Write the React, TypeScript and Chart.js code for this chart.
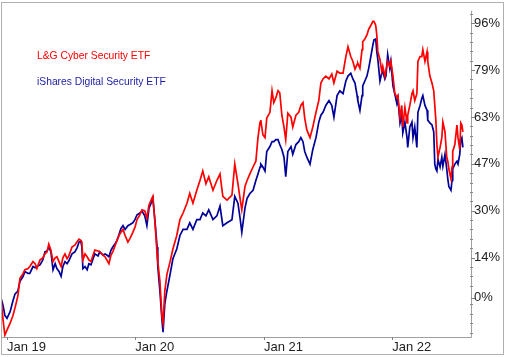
import React, { useEffect, useRef } from "react";
import { Chart, registerables } from "chart.js";

Chart.register(...registerables);

// x values: days since 1 Jan 2019
const dayOffsets = [
  -17, -11, -6, 0, 9, 17, 23, 31, 37, 46,
  51, 60, 65, 74, 80, 85, 94, 102, 108, 114,
  119, 125, 131, 137, 142, 148, 154, 159, 165, 171,
  176, 185, 193, 199, 205, 210, 213, 216, 222, 228,
  233, 239, 245, 250, 259, 264, 273, 279, 284, 290,
  296, 301, 307, 313, 319, 324, 330, 336, 344, 350,
  358, 364, 370, 378, 384, 392, 398, 404, 410, 415,
  421, 427, 429, 435, 441, 444, 449, 455, 464, 472,
  483, 492, 501, 512, 520, 529, 540, 549, 557, 566,
  574, 586, 597, 606, 614, 626, 640, 648, 657, 663,
  668, 677, 683, 691, 700, 708, 714, 720, 722, 728,
  734, 739, 748, 754, 759, 765, 771, 776, 782, 788,
  793, 799, 808, 813, 822, 830, 836, 842, 847, 853,
  862, 870, 879, 887, 893, 899, 907, 916, 924, 930,
  939, 947, 956, 964, 970, 978, 984, 990, 996, 998,
  1004, 1010, 1012, 1018, 1024, 1029, 1035, 1041, 1044, 1049,
  1052, 1055, 1061, 1066, 1069, 1075, 1078, 1083, 1089, 1092,
  1098, 1103, 1109, 1112, 1118, 1123, 1126, 1132, 1138, 1140,
  1146, 1152, 1155, 1160, 1166, 1169, 1175, 1180, 1183, 1189,
  1195, 1197, 1203, 1209, 1214, 1217, 1220, 1223, 1226, 1232,
  1237, 1240, 1246, 1251, 1254, 1257, 1263, 1266, 1268, 1274,
  1280, 1283, 1288, 1291, 1294, 1297,
];

// L&G Cyber Security ETF, % change
const lgCyber = [
  0, -7.8, -12.9, -11.2, -8.8, -6.1, -3.4, 0.7, 6.8, 8.5,
  9.8, 10.2, 10.9, 12.6, 11.9, 10.2, 13.2, 13.9, 15.3, 16.0,
  18.7, 16.6, 12.6, 13.9, 14.3, 12.6, 10.9, 13.9, 15.3, 13.6,
  14.6, 17.7, 18.3, 19.4, 20.4, 20.0, 19.4, 13.2, 15.3, 14.3,
  13.2, 12.6, 14.9, 16.6, 16.3, 16.0, 14.9, 14.3, 13.2, 11.9,
  14.9, 16.0, 18.0, 20.0, 21.7, 22.8, 23.8, 21.7, 19.4, 20.7,
  22.8, 24.5, 27.2, 28.9, 30.6, 30.2, 27.8, 32.3, 34.0, 35.3,
  26.1, 15.3, 12.6, 5.8, -6.8, -8.8, 2.4, 8.2, 12.6, 17.0,
  21.7, 27.2, 29.5, 32.9, 36.3, 32.9, 37.4, 40.8, 44.1, 39.7,
  42.1, 37.4, 40.8, 43.1, 35.3, 34.0, 35.7, 46.5, 39.7, 34.6,
  30.6, 38.7, 40.8, 43.1, 45.5, 47.5, 55.7, 61.1, 61.8, 56.7,
  55.7, 62.5, 64.5, 72.0, 67.9, 69.6, 72.0, 71.3, 63.5, 59.4,
  55.0, 64.2, 62.8, 59.4, 63.5, 64.5, 66.9, 67.9, 62.5, 58.4,
  55.7, 59.4, 64.5, 68.6, 74.7, 76.1, 77.1, 76.1, 77.8, 74.7,
  78.8, 78.1, 78.1, 83.9, 87.3, 83.9, 82.2, 79.5, 81.2, 81.5,
  79.8, 86.3, 89.0, 90.0, 91.4, 93.4, 94.7, 96.1, 96.1, 94.7,
  91.4, 85.6, 82.9, 78.8, 80.5, 77.1, 79.1, 82.2, 80.5, 82.2,
  77.1, 71.3, 69.6, 70.3, 62.8, 66.9, 59.4, 66.2, 60.8, 63.5,
  66.9, 71.0, 72.0, 68.6, 71.0, 82.2, 83.9, 83.9, 86.3, 82.2,
  85.6, 82.2, 77.1, 74.7, 72.0, 66.9, 61.8, 53.3, 48.9, 52.3,
  55.7, 61.1, 57.7, 48.9, 47.5, 44.8, 41.4, 45.5, 50.9, 53.3,
  60.1, 55.7, 51.6, 60.8, 60.1, 57.7,
];

// iShares Digital Security ETF, % change
const isharesDigital = [
  0, -2.7, -6.1, -7.1, -4.8, -1.0, 1.4, 2.4, 5.8, 7.5,
  9.2, 8.5, 8.5, 10.9, 10.5, 10.9, 11.5, 13.2, 16.0, 16.3,
  17.7, 16.0, 9.8, 11.9, 10.2, 9.2, 7.5, 10.9, 12.6, 11.9,
  12.9, 15.3, 16.0, 17.3, 19.4, 19.7, 17.7, 10.2, 10.9, 9.8,
  11.9, 11.5, 13.6, 15.3, 14.6, 16.0, 14.9, 15.3, 14.9, 14.3,
  16.6, 17.7, 18.7, 20.0, 22.1, 24.1, 25.1, 23.8, 25.1, 25.5,
  26.1, 27.2, 28.9, 29.5, 30.2, 28.5, 25.1, 31.2, 32.9, 34.6,
  26.8, 17.7, 10.9, 2.4, -7.8, -11.9, -2.0, 2.4, 8.2, 13.6,
  17.0, 21.7, 23.8, 23.8, 26.1, 23.8, 27.2, 27.2, 29.5, 28.5,
  30.6, 27.2, 28.5, 31.9, 25.1, 26.1, 27.2, 35.3, 32.9, 27.8,
  22.8, 31.2, 34.6, 36.3, 37.4, 40.8, 43.1, 45.5, 46.5, 45.5,
  44.1, 50.9, 52.6, 54.3, 54.3, 55.0, 55.0, 53.3, 51.6, 48.9,
  42.1, 50.9, 52.6, 49.9, 53.3, 54.3, 55.7, 54.3, 50.9, 48.9,
  46.5, 51.6, 55.7, 61.1, 63.5, 64.5, 66.9, 68.6, 66.9, 62.8,
  70.3, 72.0, 71.0, 75.4, 77.1, 78.1, 76.1, 74.7, 70.3, 68.6,
  65.2, 70.3, 73.7, 75.4, 77.1, 79.8, 83.9, 88.0, 89.7, 90.0,
  85.6, 82.9, 75.4, 78.1, 78.8, 76.1, 77.1, 84.6, 79.8, 82.2,
  73.7, 71.0, 67.6, 69.3, 60.8, 63.5, 57.4, 61.1, 55.7, 52.3,
  59.4, 61.1, 55.7, 59.4, 52.3, 64.5, 66.9, 69.3, 70.3, 66.9,
  65.2, 61.8, 60.8, 60.1, 57.7, 46.5, 44.8, 44.1, 48.2, 45.5,
  48.9, 45.8, 49.9, 44.8, 41.4, 38.7, 37.4, 40.8, 44.8, 46.5,
  47.5, 46.5, 49.9, 55.0, 55.7, 52.3,
];

const seriesNames = ["L&G Cyber Security ETF", "iShares Digital Security ETF"];
const xTickDays = [0, 365, 731, 1096];
const xTickLabels = ["Jan 19", "Jan 20", "Jan 21", "Jan 22"];
const yTickValues = [0, 14, 30.3, 46.6, 62.9, 79.2, 95.5];
const yMinorStep = 3.26;

const RED = "#ff0000";
const BLUE = "#000099";
const FONT = '"Liberation Sans", Arial, sans-serif';

const framePlugin = {
  id: "framePlugin",
  afterDraw(chart: any) {
    const { ctx, chartArea, scales } = chart;
    const { left, top, right, bottom } = chartArea;
    const y = scales.y;
    const x = scales.x;
    ctx.save();
    // outer border
    ctx.strokeStyle = "#b0b0b0";
    ctx.lineWidth = 1;
    ctx.strokeRect(1.5, 2.5, 502, 352);
    // axis lines
    ctx.strokeStyle = "#a0a0a0";
    ctx.beginPath();
    ctx.moveTo(right + 0.5, top);
    ctx.lineTo(right + 0.5, bottom + 0.5);
    ctx.lineTo(left, bottom + 0.5);
    ctx.stroke();
    // minor y ticks
    ctx.strokeStyle = "#8a8a8a";
    ctx.beginPath();
    for (let k = -10; k < 30; k++) {
      const v = 14 + k * yMinorStep;
      if (v < y.min || v > y.max) continue;
      if (yTickValues.some((t) => Math.abs(t - v) < 1)) continue;
      const py = Math.round(y.getPixelForValue(v)) + 0.5;
      ctx.moveTo(right - 1, py);
      ctx.lineTo(right + 2, py);
    }
    ctx.stroke();
    // major y ticks
    ctx.strokeStyle = "#808080";
    ctx.beginPath();
    yTickValues.forEach((v) => {
      const py = Math.round(y.getPixelForValue(v)) + 0.5;
      ctx.moveTo(right, py);
      ctx.lineTo(right + 4, py);
    });
    // x ticks
    xTickDays.forEach((d) => {
      const px = Math.round(x.getPixelForValue(d)) + 0.5;
      ctx.moveTo(px, bottom);
      ctx.lineTo(px, bottom + 3);
    });
    ctx.stroke();
    // legend text
    ctx.font = "10.3px " + FONT;
    ctx.textBaseline = "middle";
    ctx.textAlign = "left";
    ctx.fillStyle = RED;
    ctx.fillText(seriesNames[0], 37, 56);
    ctx.fillStyle = "#1c1ca8";
    ctx.fillText(seriesNames[1], 37, 82);
    ctx.restore();
  },
};

export default function App() {
  const canvasRef = useRef<HTMLCanvasElement | null>(null);

  useEffect(() => {
    if (!canvasRef.current) return;
    const chart = new Chart(canvasRef.current, {
      type: "line",
      data: {
        datasets: [
          {
            label: seriesNames[0],
            data: dayOffsets.map((d, i) => ({ x: d, y: lgCyber[i] })),
            borderColor: RED,
            borderWidth: 1.7,
            pointRadius: 0,
            tension: 0,
          },
          {
            label: seriesNames[1],
            data: dayOffsets.map((d, i) => ({ x: d, y: isharesDigital[i] })),
            borderColor: BLUE,
            borderWidth: 1.7,
            pointRadius: 0,
            tension: 0,
          },
        ],
      },
      options: {
        responsive: false,
        animation: false,
        devicePixelRatio: 1,
        layout: { padding: { left: 1, top: 3, right: 0, bottom: 0 } },
        plugins: {
          legend: { display: false },
          tooltip: { enabled: false },
          title: { display: false },
        },
        scales: {
          x: {
            type: "linear",
            min: -17,
            max: 1320,
            grid: { display: false, drawTicks: false, tickLength: 0 },
            border: { display: false },
            afterBuildTicks: (scale: any) => {
              scale.ticks = xTickDays.map((v) => ({ value: v }));
            },
            afterFit: (scale: any) => {
              scale.height = 20;
            },
            ticks: {
              autoSkip: false,
              maxRotation: 0,
              align: "start",
              padding: 3,
              color: "#222",
              font: { family: FONT, size: 13 },
              callback: (v: any) => {
                const i = xTickDays.indexOf(Number(v));
                return i >= 0 ? xTickLabels[i] : "";
              },
            },
          },
          y: {
            type: "linear",
            position: "right",
            min: -13.6,
            max: 99.8,
            grid: { display: false, drawTicks: false, tickLength: 0 },
            border: { display: false },
            afterBuildTicks: (scale: any) => {
              scale.ticks = yTickValues.map((v) => ({ value: v }));
            },
            afterFit: (scale: any) => {
              scale.width = 35;
            },
            ticks: {
              padding: 3,
              color: "#222",
              font: { family: FONT, size: 13 },
              callback: (v: any) => Math.round(Number(v)) + "%",
            },
          },
        },
      },
      plugins: [framePlugin],
    });
    return () => chart.destroy();
  }, []);

  return (
    <div
      style={{
        position: "absolute",
        left: 0,
        top: 0,
        width: 506,
        height: 357,
        background: "#fff",
      }}
    >
      <canvas ref={canvasRef} width={506} height={357} style={{ display: "block" }} />
    </div>
  );
}
